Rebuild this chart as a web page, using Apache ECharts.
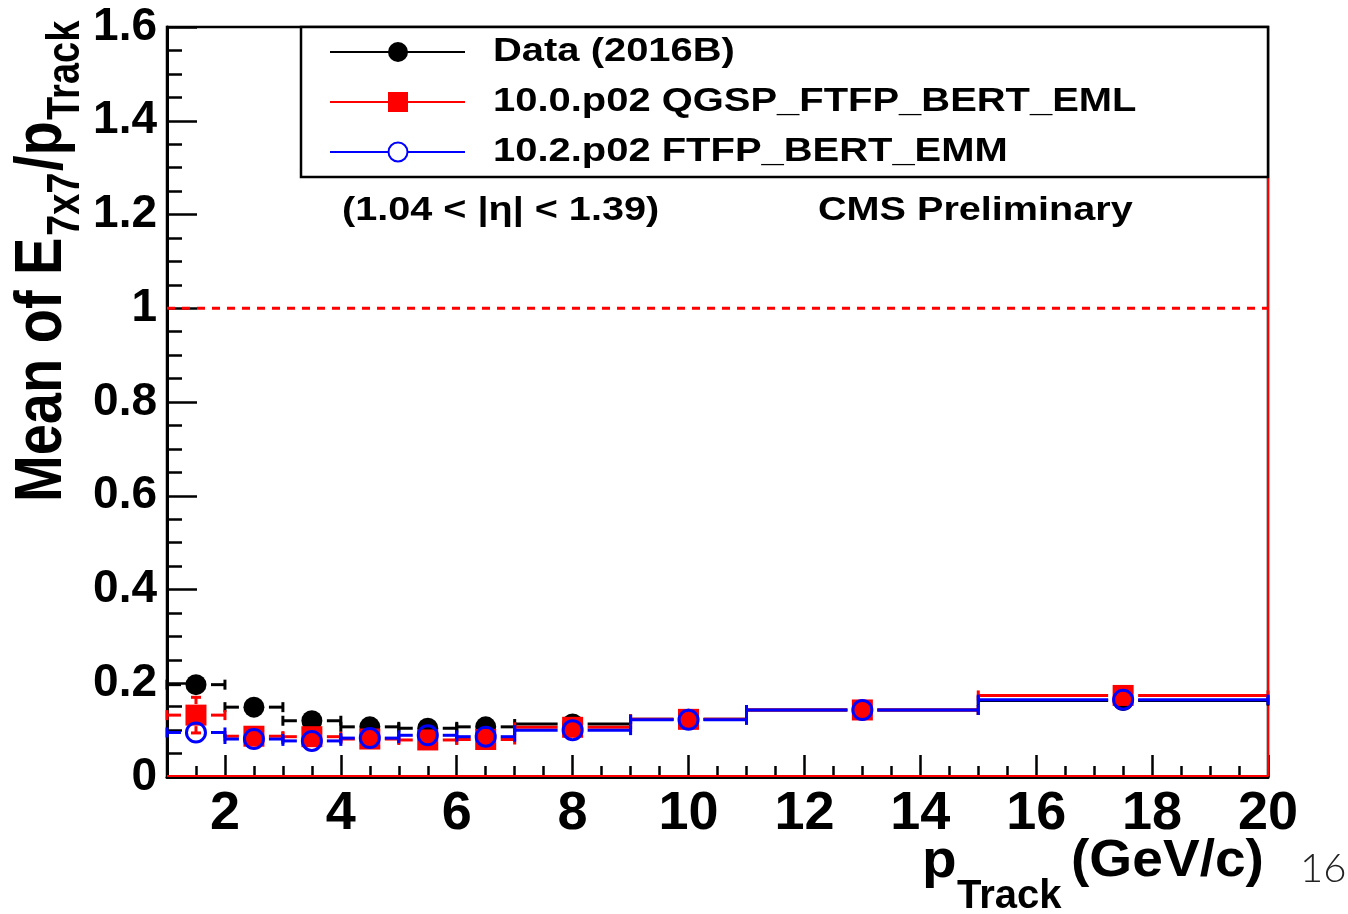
<!DOCTYPE html>
<html>
<head>
<meta charset="utf-8">
<script src="https://cdn.jsdelivr.net/npm/echarts@6/dist/echarts.min.js"></script>
<style>
html,body{margin:0;padding:0;background:#fff;}
#chart{width:1348px;height:914px;}
</style>
</head>
<body>
<div id="chart"></div>
<script>
// ---- data ----
const binLow    = [1, 2, 3, 4, 5, 6, 7, 9, 11, 15];
const binHigh   = [2, 3, 4, 5, 6, 7, 9, 11, 15, 20];
const pCenter   = [1.5, 2.5, 3.5, 4.5, 5.5, 6.5, 8, 10, 13, 17.5];
const meanData  = [0.197, 0.149, 0.120, 0.107, 0.104, 0.107, 0.113, 0.123, 0.143, 0.163];
const errData   = [0.004, 0.004, 0.003, 0.003, 0.003, 0.003, 0.002, 0.002, 0.002, 0.002];
const meanV100  = [0.132, 0.087, 0.086, 0.081, 0.079, 0.080, 0.106, 0.123, 0.143, 0.174];
const errV100   = [0.038, 0.006, 0.005, 0.004, 0.004, 0.004, 0.003, 0.003, 0.003, 0.003];
const meanV102  = [0.095, 0.081, 0.077, 0.083, 0.089, 0.086, 0.100, 0.122, 0.143, 0.165];
const errV102   = [0.004, 0.004, 0.003, 0.003, 0.003, 0.003, 0.002, 0.002, 0.002, 0.002];
const xMajorTicks = [2, 4, 6, 8, 10, 12, 14, 16, 18, 20];
const legendNames = ['Data (2016B)', '10.0.p02 QGSP_FTFP_BERT_EML', '10.2.p02 FTFP_BERT_EMM'];
const refLine = [[1, 1], [20, 1]];

const FONT = '"Liberation Sans", Arial, Helvetica, sans-serif';
const BLACK = '#000000', RED = '#ff0000', BLUE = '#0000ff';

function rows(mean, err) {
  return mean.map((v, i) => [binLow[i], binHigh[i], pCenter[i], v, err[i]]);
}

function makeErrRender(color) {
  return function (params, api) {
    const lo = api.value(0), hi = api.value(1), x = api.value(2), y = api.value(3), e = api.value(4);
    const pL = api.coord([lo, y]), pH = api.coord([hi, y]), pC = api.coord([x, y]);
    const pT = api.coord([x, y + e]), pB = api.coord([x, y - e]);
    const gap = 15, cap = 5;
    const st = { stroke: color, lineWidth: 3, fill: null };
    const ch = [];
    ch.push({ type: 'line', shape: { x1: pL[0], y1: pL[1], x2: pC[0] - gap, y2: pC[1] }, style: st });
    ch.push({ type: 'line', shape: { x1: pC[0] + gap, y1: pC[1], x2: pH[0], y2: pH[1] }, style: st });
    ch.push({ type: 'line', shape: { x1: pL[0], y1: pL[1] - cap, x2: pL[0], y2: pL[1] + cap }, style: st });
    ch.push({ type: 'line', shape: { x1: pH[0], y1: pH[1] - cap, x2: pH[0], y2: pH[1] + cap }, style: st });
    const dy = pB[1] - pC[1];
    if (dy > 11) {
      ch.push({ type: 'line', shape: { x1: pC[0], y1: pC[1] - 11, x2: pT[0], y2: pT[1] }, style: st });
      ch.push({ type: 'line', shape: { x1: pC[0], y1: pC[1] + 11, x2: pB[0], y2: pB[1] }, style: st });
      ch.push({ type: 'line', shape: { x1: pT[0] - cap, y1: pT[1], x2: pT[0] + cap, y2: pT[1] }, style: st });
      ch.push({ type: 'line', shape: { x1: pB[0] - cap, y1: pB[1], x2: pB[0] + cap, y2: pB[1] }, style: st });
    }
    return { type: 'group', children: ch };
  };
}

function errSeries(name, mean, err, color) {
  return {
    type: 'custom', name: name, xAxisIndex: 0, yAxisIndex: 0,
    data: rows(mean, err),
    encode: { x: [0, 1, 2], y: 3 },
    renderItem: makeErrRender(color),
    silent: true
  };
}
function pts(mean) { return mean.map((v, i) => [pCenter[i], v]); }

const chart = echarts.init(document.getElementById('chart'), null, { renderer: 'canvas' });

// ----- legend & annotations (graphic) -----
const legendRowsY = [52, 102, 152];
const legendGraphic = [
  { type: 'rect', z: 100, shape: { x: 301, y: 27, width: 967, height: 150 },
    style: { fill: '#fff', stroke: '#000', lineWidth: 2.5 } }
];
const legendColors = [BLACK, RED, BLUE];
legendNames.forEach((nm, i) => {
  const y = legendRowsY[i];
  legendGraphic.push({ type: 'line', z: 101, shape: { x1: 330, y1: y, x2: 465, y2: y },
    style: { stroke: legendColors[i], lineWidth: 2 } });
  if (i === 0) legendGraphic.push({ type: 'circle', z: 102, shape: { cx: 398, cy: y, r: 10 }, style: { fill: BLACK } });
  if (i === 1) legendGraphic.push({ type: 'rect', z: 102, shape: { x: 388, y: y - 10, width: 20, height: 20 }, style: { fill: RED } });
  if (i === 2) legendGraphic.push({ type: 'circle', z: 102, shape: { cx: 398, cy: y, r: 9.5 }, style: { fill: '#fff', stroke: BLUE, lineWidth: 2 } });
  legendGraphic.push({ type: 'text', z: 102, x: 493, y: y, scaleX: 1.21,
    style: { text: nm, font: 'bold 33px ' + FONT, fill: '#000', align: 'left', verticalAlign: 'middle',
             textAlign: 'left', textVerticalAlign: 'middle' } });
});

function txt(x, y, text, size, sx, opts) {
  return Object.assign({ type: 'text', z: 102, x: x, y: y, scaleX: sx || 1,
    style: { text: text, font: 'bold ' + size + 'px ' + FONT, fill: '#000', align: 'left', verticalAlign: 'middle',
             textAlign: 'left', textVerticalAlign: 'middle' } }, opts || {});
}
function rtxt(x, y, text, size) {
  return { type: 'text', x: x, y: y, style: { text: text, font: 'bold ' + size + 'px ' + FONT, fill: '#000',
    align: 'left', verticalAlign: 'middle', textAlign: 'left', textVerticalAlign: 'middle' } };
}

const annotations = [
  txt(342, 211, '(1.04 < |\u03b7| < 1.39)', 33, 1.2),
  txt(818, 211, 'CMS Preliminary', 33, 1.2),
  // x axis title
  txt(922, 862, 'p', 54, 1.05),
  txt(957, 897, 'Track', 40, 1.0),
  txt(1071, 862, '(GeV/c)', 52, 1.06),
  { type: 'text', z: 102, x: 1300, y: 869,
    style: { text: '16', font: '300 40px Lato, "Open Sans", sans-serif', fill: '#222', align: 'left', verticalAlign: 'middle',
             textAlign: 'left', textVerticalAlign: 'middle' } },
  // y axis title (rotated)
  { type: 'group', x: 64, y: 502, rotation: Math.PI / 2, scaleY: 1.2, z: 102,
    children: [
      rtxt(0, -18, 'Mean of E', 56),
      rtxt(266, 2, '7x7', 38),
      rtxt(331, -18, '/p', 56),
      rtxt(382, 2, 'Track', 38)
    ] }
];

const axisLbl = { color: '#000', fontWeight: 'bold', fontFamily: FONT };

const option = {
  animation: false,
  backgroundColor: '#fff',
  grid: { left: 167, right: 80, top: 27, bottom: 137, show: true, borderColor: '#000', borderWidth: 2.5, backgroundColor: 'transparent' },
  xAxis: [
    { type: 'value', min: 1, max: 20, interval: 0.5, position: 'bottom',
      axisLine: { show: true, onZero: false, lineStyle: { color: '#000', width: 3 } },
      axisTick: { show: true, inside: true, length: 22, customValues: xMajorTicks, lineStyle: { color: '#000', width: 2.5 } },
      axisLabel: Object.assign({ customValues: xMajorTicks, fontSize: 54, margin: 10 }, axisLbl),
      splitLine: { show: false } },
    { type: 'value', min: 1, max: 20, interval: 0.5, position: 'bottom',
      axisLine: { show: false },
      axisTick: { show: true, inside: true, length: 11, lineStyle: { color: '#000', width: 2.5 } },
      axisLabel: { show: false },
      splitLine: { show: false } }
  ],
  yAxis: [
    { type: 'value', min: 0, max: 1.6, interval: 0.2,
      axisLine: { show: true, onZero: false, lineStyle: { color: '#000', width: 3 } },
      axisTick: { show: true, inside: true, length: 30, lineStyle: { color: '#000', width: 2.5 } },
      minorTick: { show: true, splitNumber: 4, length: 15, lineStyle: { color: '#000', width: 2.5 } },
      axisLabel: Object.assign({ fontSize: 46, margin: 10 }, axisLbl),
      splitLine: { show: false } }
  ],
  graphic: { elements: legendGraphic.concat(annotations) },
  series: [
    { type: 'line', name: 'frame', data: [[1, 0.002], [20, 0.002], [20, 1.6]], symbol: 'none',
      lineStyle: { color: RED, width: 2 }, silent: true, z: 1 },
    { type: 'line', name: 'ref', data: refLine, symbol: 'none',
      lineStyle: { color: RED, width: 3, type: [8, 7] }, silent: true, z: 1 },
    errSeries(legendNames[0] + ' err', meanData, errData, BLACK),
    { type: 'scatter', name: legendNames[0], data: pts(meanData), symbol: 'circle', symbolSize: 21,
      itemStyle: { color: BLACK, opacity: 1 }, silent: true },
    errSeries(legendNames[1] + ' err', meanV100, errV100, RED),
    { type: 'scatter', name: legendNames[1], data: pts(meanV100), symbol: 'rect', symbolSize: 21,
      itemStyle: { color: RED, opacity: 1 }, silent: true },
    errSeries(legendNames[2] + ' err', meanV102, errV102, BLUE),
    { type: 'scatter', name: legendNames[2], data: pts(meanV102), symbol: 'circle', symbolSize: 19,
      itemStyle: { color: 'rgba(0,0,0,0)', borderColor: BLUE, borderWidth: 3, opacity: 1 }, silent: true }
  ]
};
chart.setOption(option);
</script>
</body>
</html>
